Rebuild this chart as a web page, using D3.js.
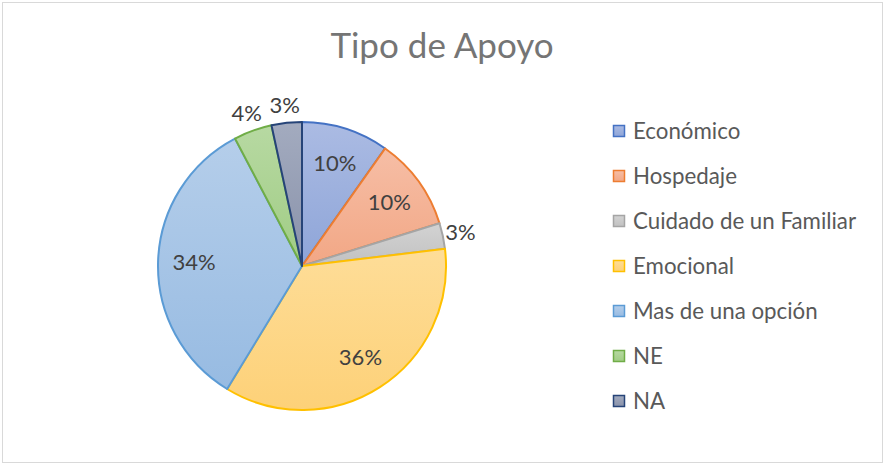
<!DOCTYPE html>
<html>
<head>
<meta charset="utf-8">
<title>Tipo de Apoyo</title>
<style>
  html, body { margin: 0; padding: 0; background: #fff; }
  svg { display: block; font-family: Lato, "Open Sans", sans-serif; }
  .title { fill: #757575; font-size: 35px; }
  .lbl { fill: #404040; font-size: 22px; }
  .legend text { fill: #595959; font-size: 22.3px; }
</style>
<script src="https://d3js.org/d3.v7.min.js"></script>
</head>
<body>
<svg id="chart" width="885" height="465"></svg>
<script>
const title = 'Tipo de Apoyo';
const categories = ['Económico', 'Hospedaje', 'Cuidado de un Familiar', 'Emocional', 'Mas de una opción', 'NE', 'NA'];
const values = [9.8, 10.4, 2.9, 35.6, 33.6, 4.3, 3.4];
const strokeColors = ['#4472c4', '#ed7d31', '#a5a5a5', '#ffc000', '#5b9bd5', '#70ad47', '#264478'];
const fillTop = ['#abbbe3', '#f6bea6', '#d3d3d3', '#fedd98', '#b5ceea', '#b7d9a2', '#a3abbf'];
const fillBottom = ['#8ea5d8', '#f2a785', '#c1c1c1', '#fdd178', '#97bbe2', '#a0cc84', '#8992aa'];

const svg = d3.select('#chart');
const W = 885, H = 465;

svg.append('rect')
  .attr('x', 2.5).attr('y', 2.5)
  .attr('width', W - 5).attr('height', H - 5)
  .attr('fill', '#fff')
  .attr('stroke', '#d9d9d9');

svg.append('text')
  .attr('class', 'title')
  .attr('x', 442).attr('y', 58)
  .attr('text-anchor', 'middle')
  .text(title);

const defs = svg.append('defs');
categories.forEach((c, i) => {
  const g = defs.append('linearGradient')
    .attr('id', 'grad' + i)
    .attr('x1', 0).attr('y1', 0).attr('x2', 0).attr('y2', 1);
  g.append('stop').attr('offset', '0%').attr('stop-color', fillTop[i]);
  g.append('stop').attr('offset', '100%').attr('stop-color', fillBottom[i]);
});

const cx = 302, cy = 266, r = 144;
const total = d3.sum(values);
const pie = d3.pie().sort(null).value(d => d)(values);
const arc = d3.arc().innerRadius(0).outerRadius(r);
const inArc = d3.arc().innerRadius(108).outerRadius(108);
const outArc = d3.arc().innerRadius(162).outerRadius(162);

const g = svg.append('g').attr('transform', `translate(${cx},${cy})`);

g.selectAll('path.slice')
  .data(pie)
  .join('path')
  .attr('class', 'slice')
  .attr('d', arc)
  .attr('fill', (d, i) => `url(#grad${i})`)
  .attr('stroke', (d, i) => strokeColors[i])
  .attr('stroke-width', 2)
  .attr('stroke-linejoin', 'round');

g.selectAll('text.lbl')
  .data(pie)
  .join('text')
  .attr('class', 'lbl')
  .attr('transform', d => {
    const p = (d.value / total < 0.05 ? outArc : inArc).centroid(d);
    return `translate(${p[0]},${p[1]})`;
  })
  .attr('text-anchor', 'middle')
  .attr('dy', '0.35em')
  .text(d => Math.round(d.value / total * 100) + '%');

const legendY = d3.scalePoint().domain(categories).range([131, 401]);
const leg = svg.append('g').attr('class', 'legend');
const item = leg.selectAll('g')
  .data(categories)
  .join('g')
  .attr('transform', d => `translate(613,${legendY(d)})`);

item.append('rect')
  .attr('x', 0.5).attr('y', -5.5)
  .attr('width', 11).attr('height', 11)
  .attr('fill', (d, i) => `url(#grad${i})`)
  .attr('stroke', (d, i) => strokeColors[i])
  .attr('stroke-width', 1.5);

item.append('text')
  .attr('x', 20).attr('dy', '0.35em')
  .text(d => d);
</script>
</body>
</html>
